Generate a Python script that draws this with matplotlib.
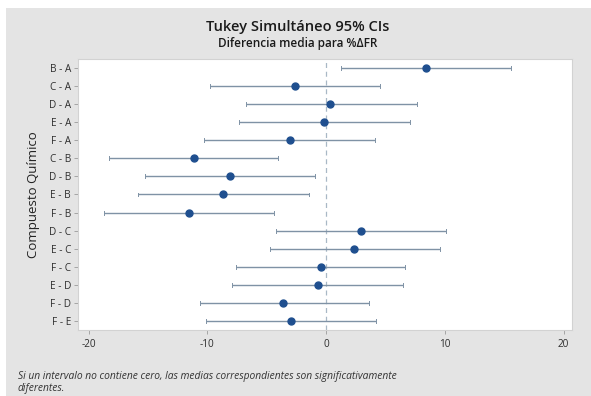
import matplotlib
matplotlib.use("Agg")
import matplotlib.pyplot as plt
from matplotlib.patches import Rectangle

# Tukey simultaneous 95% confidence intervals for pairwise differences
pairs = ["B - A", "C - A", "D - A", "E - A", "F - A",
         "C - B", "D - B", "E - B", "F - B",
         "D - C", "E - C", "F - C",
         "E - D", "F - D", "F - E"]
diff_mean = [8.38, -2.65, 0.35, -0.18, -3.02,
             -11.16, -8.13, -8.69, -11.55,
             2.90, 2.37, -0.46,
             -0.66, -3.60, -2.99]
ci_low = [1.28, -9.81, -6.78, -7.34, -10.26,
          -18.30, -15.26, -15.85, -18.70,
          -4.20, -4.70, -7.56,
          -7.90, -10.65, -10.09]
ci_high = [15.60, 4.50, 7.62, 7.09, 4.14,
           -4.06, -0.94, -1.45, -4.40,
           10.10, 9.59, 6.67,
           6.47, 3.60, 4.17]
x_ticks = [-20, -10, 0, 10, 20]

W, H = 591, 396
plt.rcParams["font.family"] = ["Open Sans", "DejaVu Sans"]

fig = plt.figure(figsize=(W / 100, H / 100), dpi=100)
fig.patch.set_facecolor("white")

# grey backdrop panel
fig.patches.append(Rectangle((6 / W, 0), 1 - 6 / W, 1 - 8 / H,
                             transform=fig.transFigure, facecolor="#e4e4e4",
                             edgecolor="none", zorder=-10))

ax = fig.add_axes([78 / W, 1 - 330 / H, (572 - 78) / W, (330 - 59) / H])
ax.set_zorder(1)
ax.set_facecolor("white")

ypos = list(range(len(pairs)))
line_col = "#7f92a5"
point_col = "#1f4f8f"

ax.axvline(0, color="#a9b8c6", lw=0.9, ls=(0, (4, 3)), zorder=1)

for y, m, lo, hi in zip(ypos, diff_mean, ci_low, ci_high):
    ax.plot([lo, hi], [y, y], color=line_col, lw=1.0, solid_capstyle="butt", zorder=2)
    ax.plot([lo, lo], [y - 0.11, y + 0.11], color=line_col, lw=0.7, zorder=2)
    ax.plot([hi, hi], [y - 0.11, y + 0.11], color=line_col, lw=0.7, zorder=2)
ax.plot(diff_mean, ypos, "o", color=point_col, ms=5, zorder=3)

ax.set_xlim(-20.9, 20.7)
ax.set_ylim(len(pairs) - 0.5, -0.5)
ax.set_yticks(ypos)
ax.set_yticklabels(pairs)
ax.set_xticks(x_ticks)
ax.set_xticklabels([str(t) for t in x_ticks])

for s in ax.spines.values():
    s.set_color("#d2d2d2")
    s.set_linewidth(0.8)
ax.tick_params(axis="both", colors="#9a9a9a", labelcolor="#2e2e2e",
               labelsize=7.2, length=3, width=0.6)
ax.tick_params(axis="x", pad=3.5)
ax.tick_params(axis="y", pad=2)

ax.set_ylabel("Compuesto Químico", fontsize=9.5, color="#222222", labelpad=6)

fig.text(298 / W, 1 - 27 / H, "Tukey Simultáneo 95% CIs", ha="center", va="center",
         fontsize=10.5, fontweight="semibold", color="#1a1a1a")
fig.text(298 / W, 1 - 44 / H, "Diferencia media para %ΔFR", ha="center", va="center",
         fontsize=8.5, fontweight="semibold", color="#1a1a1a")

fig.text(18 / W, 1 - 377 / H,
         "Si un intervalo no contiene cero, las medias correspondientes son significativamente",
         ha="left", va="center", fontsize=7.4, style="italic", color="#333333")
fig.text(18 / W, 1 - 389 / H, "diferentes.",
         ha="left", va="center", fontsize=7.4, style="italic", color="#333333")

fig.savefig("out.png", dpi=100)
